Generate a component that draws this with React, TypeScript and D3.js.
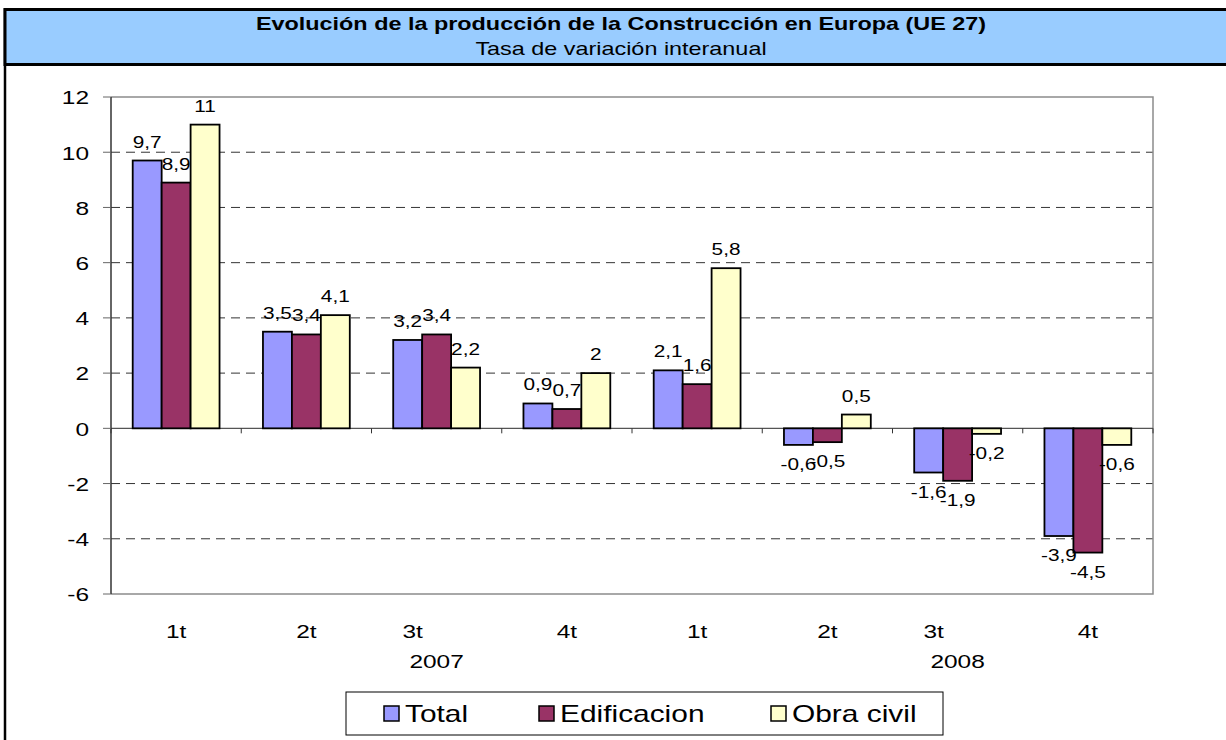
import React from "react";
import * as d3 from "d3";

const quarters = ["1t", "2t", "3t", "4t", "1t", "2t", "3t", "4t"];
const years = ["", "", "2007", "", "", "", "2008", ""];
const seriesNames = ["Total", "Edificacion", "Obra civil"];
const total = [9.7, 3.5, 3.2, 0.9, 2.1, -0.6, -1.6, -3.9];
const edificacion = [8.9, 3.4, 3.4, 0.7, 1.6, -0.5, -1.9, -4.5];
const obraCivil = [11, 4.1, 2.2, 2, 5.8, 0.5, -0.2, -0.6];
const yTicks = [-6, -4, -2, 0, 2, 4, 6, 8, 10, 12];
const titleText = "Evolución de la producción de la Construcción en Europa (UE 27)";
const subtitleText = "Tasa de variación interanual";

const colors = ["#9999FF", "#993366", "#FFFFCC"];
const FONT = "'Liberation Sans', Arial, sans-serif";
const SX = 1.3;

const W = 1226;
const H = 740;
const plot = { left: 111, right: 1153, top: 97, bottom: 594 };

function SText(props: any) {
  const { x, y, anchor = "middle", size, weight = "normal", children, fill = "#000" } = props;
  return (
    <text
      transform={`translate(${x},${y}) scale(${SX},1)`}
      textAnchor={anchor}
      fontSize={size}
      fontFamily={FONT}
      fontWeight={weight}
      fill={fill}
    >
      {children}
    </text>
  );
}

const fmt = (v: number) => String(v).replace(".", ",");

export default function App() {
  const series = [total, edificacion, obraCivil];
  const idx = quarters.map((_, i) => i);
  const x = d3.scaleBand<number>().domain(idx).range([plot.left, plot.right]).paddingInner(0).paddingOuter(0);
  const xs = d3.scaleBand<number>().domain([0, 1, 2]).range([0, x.bandwidth()]).paddingInner(0).paddingOuter(0.75);
  const y = d3.scaleLinear().domain([-6, 12]).range([plot.bottom, plot.top]);
  const y0 = y(0);

  const axisFs = 18.8;
  const labelFs = 16;
  const legendFs = 23;

  const legendItems = [
    { name: seriesNames[0], sq: 384 },
    { name: seriesNames[1], sq: 539 },
    { name: seriesNames[2], sq: 771 },
  ];

  return (
    <div style={{ position: "absolute", left: 0, top: 0 }}>
      <svg width={W} height={H} style={{ display: "block", background: "#fff" }}>
        {/* outer frame */}
        <rect x={5} y={9.5} width={W + 20} height={H + 20} fill="#fff" stroke="#000" strokeWidth={2.5} />
        {/* title box */}
        <rect x={5} y={9.5} width={W + 20} height={55} fill="#99CCFF" stroke="#000" strokeWidth={3} />
        <SText x={621} y={30} size={18} weight="bold">{titleText}</SText>
        <SText x={621} y={55} size={18}>{subtitleText}</SText>

        {/* gridlines */}
        {yTicks.filter((t) => t !== 0 && t !== 12 && t !== -6).map((t) => (
          <line key={"g" + t} x1={plot.left} x2={plot.right} y1={y(t)} y2={y(t)} stroke="#333" strokeWidth={1} strokeDasharray="9,6" />
        ))}
        {/* plot border */}
        <path d={`M${plot.left},${plot.top}H${plot.right}V${plot.bottom}H${plot.left}`} fill="none" stroke="#8c8c8c" strokeWidth={1.5} />
        {/* zero line */}
        <line x1={plot.left} x2={plot.right} y1={y0} y2={y0} stroke="#555" strokeWidth={1.2} />
        {/* x ticks at zero line */}
        {d3.range(quarters.length + 1).map((i) => {
          const xx = plot.left + i * x.step();
          return <line key={"xt" + i} x1={xx} x2={xx} y1={y0} y2={y0 + 5} stroke="#333" strokeWidth={1} />;
        })}

        {/* bars */}
        {series.map((vals, s) =>
          vals.map((v, i) => {
            const bx = (x(i) as number) + (xs(s) as number);
            const top = Math.min(y(v), y0);
            const h = Math.abs(y(v) - y0);
            return (
              <rect key={`b${s}-${i}`} x={bx} y={top} width={xs.bandwidth()} height={h} fill={colors[s]} stroke="#000" strokeWidth={1.8} />
            );
          })
        )}

        {/* y axis */}
        <line x1={plot.left} x2={plot.left} y1={plot.top} y2={plot.bottom} stroke="#333" strokeWidth={1.5} />
        {yTicks.map((t) => (
          <g key={"yt" + t}>
            <line x1={plot.left - 8} x2={plot.left} y1={y(t)} y2={y(t)} stroke="#666" strokeWidth={1} />
            <SText x={89} y={y(t) + 7.3} anchor="end" size={axisFs}>{String(t)}</SText>
          </g>
        ))}

        {/* data labels */}
        {series.map((vals, s) =>
          vals.map((v, i) => {
            const cx = (x(i) as number) + (xs(s) as number) + xs.bandwidth() / 2;
            const ly = v >= 0 ? y(v) - 13 : y(v) + 25;
            return (
              <SText key={`l${s}-${i}`} x={cx} y={ly} size={labelFs}>{fmt(v)}</SText>
            );
          })
        )}

        {/* category labels */}
        {quarters.map((q, i) => {
          const cx = (x(i) as number) + x.bandwidth() / 2;
          const hasYear = years[i] !== "";
          return (
            <g key={"c" + i}>
              <SText x={hasYear ? cx - 24 : cx} y={638} size={axisFs}>{q}</SText>
              {hasYear && <SText x={cx} y={668} size={axisFs}>{years[i]}</SText>}
            </g>
          );
        })}

        {/* legend */}
        <rect x={346} y={692} width={597} height={43} fill="#fff" stroke="#000" strokeWidth={1} />
        {legendItems.map((it, k) => (
          <g key={"lg" + k}>
            <rect x={it.sq} y={706} width={15} height={15} fill={colors[k]} stroke="#000" strokeWidth={1.5} />
            <SText x={it.sq + 21} y={722} anchor="start" size={legendFs}>{it.name}</SText>
          </g>
        ))}
      </svg>
    </div>
  );
}
